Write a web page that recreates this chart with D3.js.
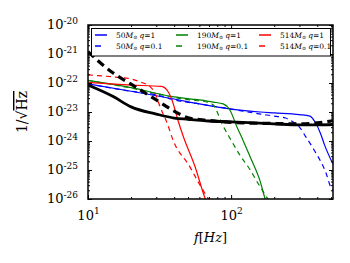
<!DOCTYPE html>
<html>
<head>
<meta charset="utf-8">
<script src="https://cdn.jsdelivr.net/npm/d3@7/dist/d3.min.js"></script>
<style>
body{margin:0;background:#fff;}
svg{display:block;}
text{font-family:"DejaVu Serif",serif;fill:#000;}
</style>
</head>
<body>
<div id="chart"></div>
<script>

//values (f in Hz, amplitude in 1/sqrt(Hz))
var noiseF   = [10, 15, 20, 30, 40, 50, 70, 100, 200, 300, 400, 515];
var noiseV   = [8.5e-23, 3.4e-23, 1.5e-23, 8.5e-24, 6.2e-24, 5.6e-24, 4.9e-24, 4.6e-24, 3.9e-24, 3.6e-24, 3.6e-24, 3.7e-24];

var noise2F  = [10, 15, 20, 30, 40, 50, 60, 80, 100, 200, 300, 400, 515];
var noise2V  = [1.2e-21, 2.2e-22, 9.1e-23, 2.6e-23, 1.07e-23, 6.3e-24, 5.5e-24, 4.8e-24, 4.4e-24, 4.0e-24, 3.9e-24, 4.2e-24, 5.0e-24];

var m50q1F   = [10, 20, 40, 60, 100, 160, 200, 300, 355, 385, 420, 450, 515];
var m50q1V   = [9.3e-23, 5.2e-23, 2.8e-23, 1.9e-23, 1.26e-23, 1.0e-23, 9.3e-24, 8.1e-24, 7.2e-24, 4.6e-24, 1.9e-24, 7.2e-25, 1.6e-25];

var m50q01F  = [10, 20, 30, 40, 60, 100, 160, 200, 240, 270, 300, 330, 380, 460, 500, 515];
var m50q01V  = [9.3e-23, 5.2e-23, 3.9e-23, 2.6e-23, 1.9e-23, 1.26e-23, 8.5e-24, 7.2e-24, 6.2e-24, 4.6e-24, 3.0e-24, 1.48e-24, 4.9e-25, 7.9e-26, 2.4e-26, 2.0e-26];

var m190q1F  = [10, 20, 40, 60, 75, 88, 98, 110, 121, 136, 160, 173, 180];
var m190q1V  = [1.23e-22, 6.9e-23, 3.3e-23, 2.6e-23, 2.2e-23, 1.9e-23, 1.17e-23, 3.0e-24, 1.07e-24, 2.8e-25, 3.9e-26, 1.0e-26, 6e-27];

var m190q01F = [10, 20, 40, 46, 52, 68, 75, 80, 84, 91, 98, 115, 136, 154, 170, 181, 188];
var m190q01V = [1.23e-22, 6.7e-23, 3.2e-23, 2.8e-23, 2.6e-23, 2.2e-23, 1.74e-23, 1.0e-23, 5.3e-24, 2.4e-24, 1.26e-24, 3.3e-25, 1.0e-25, 3.5e-26, 1.6e-26, 1.0e-26, 8e-27];

var m514q1F  = [10, 20, 32.6, 36.3, 39.3, 42.5, 46.4, 56, 65.8, 68];
var m514q1V  = [1.05e-22, 8.5e-23, 7.6e-23, 5.0e-23, 2.0e-23, 5.2e-24, 1.4e-24, 1.3e-25, 1.05e-26, 7e-27];

var m514q01F = [10, 15, 20, 23, 27.2, 29.4, 31.9, 35.7, 39.3, 51.7, 57.9, 69, 72];
var m514q01V = [1.9e-22, 1.62e-22, 1.38e-22, 1.1e-22, 7.4e-23, 4.5e-23, 1.5e-23, 4.2e-24, 1.07e-24, 1.26e-25, 4.5e-26, 1.07e-26, 8e-27];

var legendMass = ["50", "190", "514"];
var legendQ    = ["1", "0.1"];

var xMajor = [10, 100];
var xMinor = [20, 30, 40, 50, 60, 70, 80, 90, 200, 300, 400, 500];
var yExp   = [-26, -25, -24, -23, -22, -21, -20];

var W = 350, H = 263;
var padL = 88, padR = 333, padT = 25, padB = 199;

function initialize(){

  var svg = d3.select("#chart").append("svg")
      .attr("width", W)
      .attr("height", H);

  var xScale = d3.scaleLog().domain([10, 515]).range([padL, padR]);
  var yScale = d3.scaleLog().domain([1e-26, 1e-20]).range([padB, padT]);

  svg.append("clipPath").attr("id", "clip")
     .append("rect")
     .attr("x", padL).attr("y", padT)
     .attr("width", padR-padL).attr("height", padB-padT);

  //series table built from the arrays above
  var series = [
    {f: noiseF,   v: noiseV,   color: "#000000", width: 2.8, dash: null},
    {f: noise2F,  v: noise2V,  color: "#000000", width: 3.2, dash: "8,5"},
    {f: m50q1F,   v: m50q1V,   color: "#0000ff", width: 1.2, dash: null},
    {f: m50q01F,  v: m50q01V,  color: "#0000ff", width: 1.2, dash: "5,4"},
    {f: m190q1F,  v: m190q1V,  color: "#008000", width: 1.2, dash: null},
    {f: m190q01F, v: m190q01V, color: "#008000", width: 1.2, dash: "5,4"},
    {f: m514q1F,  v: m514q1V,  color: "#ff0000", width: 1.2, dash: null},
    {f: m514q01F, v: m514q01V, color: "#ff0000", width: 1.2, dash: "5,4"}
  ];

  var line = d3.line()
      .x(function(d){ return xScale(d[0]); })
      .y(function(d){ return yScale(d[1]); })
      .curve(d3.curveMonotoneX);

  var g = svg.append("g").attr("clip-path", "url(#clip)");

  //colored ones first, black curves on top
  var order = [2,3,4,5,6,7,0,1];
  order.forEach(function(i){
    var s = series[i];
    var pts = s.f.map(function(f, j){ return [f, s.v[j]]; });
    g.append("path")
     .attr("d", line(pts))
     .attr("fill", "none")
     .attr("stroke", s.color)
     .attr("stroke-width", s.width)
     .attr("stroke-dasharray", s.dash);
  });

  //minor ticks
  var yMinor = [];
  for(var k = -26; k < -20; k++){
    for(var m = 2; m < 10; m++){ yMinor.push(m * Math.pow(10, k)); }
  }
  var yMajor = yExp.map(function(e){ return Math.pow(10, e); });

  function addAxis(axis, tx, ty){
    var a = svg.append("g")
       .attr("transform", "translate(" + tx + "," + ty + ")")
       .call(axis);
    a.select(".domain").remove();
    a.selectAll(".tick line").attr("stroke", "#000").attr("stroke-width", 1);
    return a;
  }

  addAxis(d3.axisLeft(yScale).tickValues(yMinor).tickSize(-2).tickFormat(""), padL, 0);
  addAxis(d3.axisRight(yScale).tickValues(yMinor).tickSize(-2).tickFormat(""), padR, 0);
  addAxis(d3.axisBottom(xScale).tickValues(xMinor).tickSize(-2).tickFormat(""), 0, padB);
  addAxis(d3.axisTop(xScale).tickValues(xMinor).tickSize(-2).tickFormat(""), 0, padT);

  var yAx = addAxis(d3.axisLeft(yScale).tickValues(yMajor).tickSize(-4).tickPadding(10).tickFormat(""), padL, 0);
  addAxis(d3.axisRight(yScale).tickValues(yMajor).tickSize(-4).tickFormat(""), padR, 0);
  var xAx = addAxis(d3.axisBottom(xScale).tickValues(xMajor).tickSize(-4).tickPadding(9).tickFormat(""), 0, padB);
  addAxis(d3.axisTop(xScale).tickValues(xMajor).tickSize(-4).tickFormat(""), 0, padT);

  //power-of-ten labels
  yAx.selectAll(".tick text").each(function(d, i){
    var t = d3.select(this)
        .attr("font-size", 13)
        .attr("dy", "0.3em")
        .attr("font-family", "DejaVu Serif");
    t.append("tspan").text("10");
    t.append("tspan").attr("font-size", 9).attr("dy", "-0.6em").text("-" + (-yExp[i]));
  });
  xAx.selectAll(".tick text").each(function(d, i){
    var t = d3.select(this)
        .attr("font-size", 13)
        .attr("dy", "0.9em")
        .attr("font-family", "DejaVu Serif");
    t.append("tspan").text("10");
    t.append("tspan").attr("font-size", 9).attr("dy", "-0.6em").text(i + 1);
  });

  //frame
  svg.append("rect")
     .attr("x", padL).attr("y", padT)
     .attr("width", padR-padL).attr("height", padB-padT)
     .attr("fill", "none")
     .attr("stroke", "#000")
     .attr("stroke-width", 1.5);

  //axis titles
  var xt = svg.append("text")
     .attr("x", (padL+padR)/2)
     .attr("y", 242)
     .attr("text-anchor", "middle")
     .attr("font-size", 13);
  xt.append("tspan").attr("font-style", "italic").text("f");
  xt.append("tspan").text("[");
  xt.append("tspan").attr("font-style", "italic").text("Hz");
  xt.append("tspan").text("]");

  var yt = svg.append("text")
     .attr("transform", "translate(27," + ((padT+padB)/2) + ") rotate(-90)")
     .attr("text-anchor", "middle")
     .attr("font-size", 14);
  yt.append("tspan").text("1/\u221A");
  yt.append("tspan").style("text-decoration", "overline").text("Hz");

  //legend
  var leg = svg.append("g");
  leg.append("rect")
     .attr("x", 91.5).attr("y", 28.5)
     .attr("width", 239).attr("height", 27.5)
     .attr("fill", "#fff")
     .attr("stroke", "#000")
     .attr("stroke-width", 1);

  var colX = [95, 176, 259];
  var rowY = [35, 46];
  var colors = ["#0000ff", "#008000", "#ff0000"];

  legendMass.forEach(function(mass, c){
    legendQ.forEach(function(q, r){
      leg.append("line")
         .attr("x1", colX[c]).attr("x2", colX[c] + 12)
         .attr("y1", rowY[r]).attr("y2", rowY[r])
         .attr("stroke", colors[c])
         .attr("stroke-width", 1.5)
         .attr("stroke-dasharray", r == 1 ? "6,6" : null);
      var t = leg.append("text")
         .attr("x", colX[c] + 21)
         .attr("y", rowY[r] + 2.5)
         .attr("font-size", 7.5);
      t.append("tspan").text(mass);
      t.append("tspan").attr("font-style", "italic").text("M");
      t.append("tspan").attr("font-size", 5).attr("dy", 1.5).text("\u2299");
      t.append("tspan").attr("font-style", "italic").attr("dy", -1.5).attr("dx", 2).text("q");
      t.append("tspan").text("=" + q);
    });
  });

}

initialize();
</script>
</body>
</html>
